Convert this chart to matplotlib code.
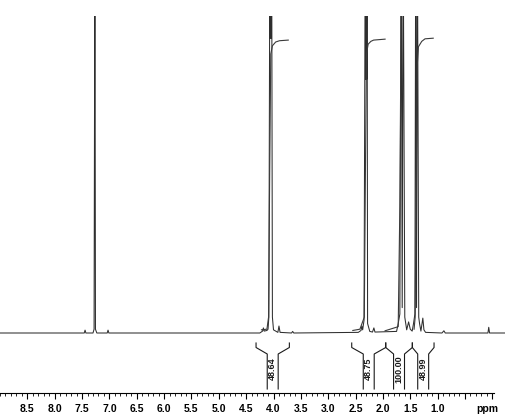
import matplotlib
matplotlib.use("Agg")
import matplotlib.pyplot as plt
from matplotlib import font_manager as fm
from matplotlib.ticker import FixedLocator
import matplotlib.transforms as mtrans

# pick regular-width Liberation Sans Bold (avoid Narrow)
bold_file = None
for f in fm.fontManager.ttflist:
    if f.name == 'Liberation Sans' and f.weight in (700, 'bold') and f.style == 'normal' \
            and 'Narrow' not in f.fname:
        bold_file = f.fname
        break
if bold_file:
    FP = lambda size: fm.FontProperties(fname=bold_file, size=size)
else:
    FP = lambda size: fm.FontProperties(family='DejaVu Sans', weight='bold', size=size)

# ---------------- data ----------------
# 1H NMR spectrum (ppm, relative intensity; 1.0 = top of plot)
spec_ppm = [9.00, 7.46, 7.445, 7.43, 7.30, 7.28, 7.265, 7.255, 7.23, 7.04, 7.025, 7.01,
            4.25, 4.20, 4.185, 4.17, 4.12, 4.10, 4.085, 4.066, 4.058, 4.050, 4.042, 4.034,
            4.02, 4.00, 3.92, 3.90, 3.88, 3.67, 3.65, 3.63,
            2.45, 2.40, 2.385, 2.37, 2.345, 2.322, 2.314, 2.306, 2.298, 2.290, 2.28, 2.24,
            2.19, 2.165, 2.145, 1.75, 1.72, 1.69, 1.665, 1.647, 1.63, 1.60, 1.565, 1.53,
            1.50, 1.465, 1.44, 1.415, 1.40, 1.385, 1.37, 1.345, 1.33, 1.305, 1.27, 1.25,
            1.22, 0.92, 0.885, 0.86, 0.08, 0.065, 0.05, -0.30]
spec_int = [0.0, 0.0, 0.009, 0.0, 0.0, 0.012, 1.3, 0.012, 0.0, 0.0, 0.009, 0.0,
            0.0, 0.006, 0.016, 0.006, 0.008, 0.012, 0.05, 1.3, 0.93, 1.3, 0.93, 1.3,
            0.05, 0.01, 0.002, 0.022, 0.002, 0.0, 0.005, 0.0,
            0.002, 0.008, 0.022, 0.01, 0.04, 1.3, 0.8, 1.3, 0.8, 1.3, 0.03, 0.005,
            0.003, 0.016, 0.003, 0.005, 0.03, 0.06, 1.3, 0.08, 1.3, 0.05, 0.01, 0.035,
            0.012, 0.006, 0.03, 0.06, 1.3, 0.08, 1.3, 0.05, 0.03, 0.006, 0.047, 0.01,
            0.002, 0.0, 0.007, 0.0, 0.0, 0.018, 0.0, 0.0]

# integral traces (ppm, level)
int1_ppm = [4.22, 4.12, 4.09, 4.07, 4.05, 4.02, 3.96, 3.89, 3.73]
int1_val = [0.010, 0.012, 0.05, 0.5, 0.88, 0.906, 0.918, 0.922, 0.924]
int2_ppm = [2.55, 2.42, 2.34, 2.32, 2.30, 2.27, 2.22, 2.17, 1.96]
int2_val = [0.008, 0.012, 0.05, 0.5, 0.88, 0.911, 0.92, 0.924, 0.927]
int3_ppm = [1.96, 1.72, 1.69, 1.66, 1.62]
int3_val = [0.007, 0.02, 0.4, 1.2, 1.9]
int4_ppm = [1.43, 1.41, 1.39, 1.37, 1.35, 1.29, 1.23, 1.08]
int4_val = [0.012, 0.05, 0.5, 0.85, 0.903, 0.92, 0.928, 0.930]

# integration regions (ppm) and values
region_left = [4.319, 2.570, 1.948, 1.462]
region_right = [3.710, 1.948, 1.462, 1.065]
integrals = ["48.64", "48.75", "100.00", "48.99"]

tick_labels = ["8.5", "8.0", "7.5", "7.0", "6.5", "6.0", "5.5", "5.0", "4.5",
               "4.0", "3.5", "3.0", "2.5", "2.0", "1.5", "1.0", "", ""]
major_ticks = [8.5, 8.0, 7.5, 7.0, 6.5, 6.0, 5.5, 5.0, 4.5, 4.0, 3.5, 3.0, 2.5, 2.0,
               1.5, 1.0, 0.5, 0.0]
minor_ticks = [round(9.0 - 0.1 * i, 1) for i in range(91)]

# ---------------- figure ----------------
W, H = 505, 419
fig = plt.figure(figsize=(W / 100, H / 100), dpi=100)
ax = fig.add_axes([0, (H - 393) / H, 1, (393 - 16) / H])
px_per_ppm = 54.7
x_left = 9.0
ax.set_xlim(x_left, x_left - W / px_per_ppm)
ylow = -(393 - 333) / 317
ax.set_ylim(ylow, 1.0)

def py(px):
    return (333 - px) / 317

ax.plot(spec_ppm, spec_int, color='#2e2e2e', lw=0.75)
for xs, ys in [(int1_ppm, int1_val), (int2_ppm, int2_val), (int3_ppm, int3_val), (int4_ppm, int4_val)]:
    ax.plot(xs, ys, color='#3a3a3a', lw=0.8)

# integral brackets
y_top, y_bend, y_diag, y_bot = py(343), py(347.5), py(354), py(389)
half = 0.1
for lft, rgt, lab in zip(region_left, region_right, integrals):
    c = (lft + rgt) / 2
    il, ir = c + half, c - half
    ax.plot([lft, lft, il, il], [y_top, y_bend, y_diag, y_bot], color='#1a1a1a', lw=0.8)
    ax.plot([rgt, rgt, ir, ir], [y_top, y_bend, y_diag, y_bot], color='#1a1a1a', lw=0.8)
    ax.text(c, py(369), lab, rotation=90, ha='center', va='center',
            fontproperties=FP(6.5), color='#1a1a1a')

# axis
for s in ['top', 'left', 'right']:
    ax.spines[s].set_visible(False)
ax.spines['bottom'].set_bounds(x_left, -0.03)
ax.spines['bottom'].set_linewidth(0.8)
ax.yaxis.set_visible(False)
ax.xaxis.set_major_locator(FixedLocator(major_ticks))
ax.xaxis.set_minor_locator(FixedLocator(minor_ticks))
ax.set_xticklabels(tick_labels)
ax.tick_params(axis='x', which='major', direction='out', length=4.5, width=0.8, pad=3.5)
ax.tick_params(axis='x', which='minor', direction='out', length=2.5, width=0.6)
for t in ax.get_xticklabels():
    t.set_fontproperties(FP(7.5))

fig.canvas.draw()
bb = ax.get_xticklabels()[0].get_window_extent()
tr = mtrans.blended_transform_factory(ax.transData, fig.transFigure)
ax.text(0.10, (bb.y0 + bb.y1) / 2 / fig.bbox.height, "ppm", transform=tr,
        ha='center', va='center', fontproperties=FP(7.5))

fig.savefig("out.png", dpi=100)
